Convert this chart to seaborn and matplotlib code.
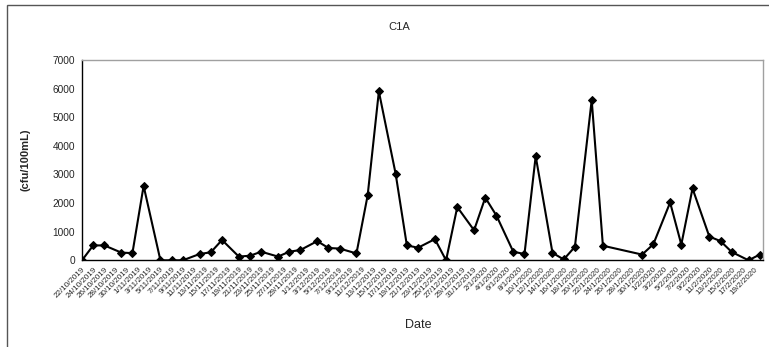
import matplotlib
matplotlib.use("Agg")
import matplotlib.pyplot as plt
import matplotlib.dates as mdates
from matplotlib.patches import Rectangle
import seaborn as sns
import pandas as pd

# ---- data ----
sample_dates = ['2019-10-22', '2019-10-24', '2019-10-26', '2019-10-29', '2019-10-31',
                '2019-11-02', '2019-11-05', '2019-11-07', '2019-11-09', '2019-11-12',
                '2019-11-14', '2019-11-16', '2019-11-19', '2019-11-21', '2019-11-23',
                '2019-11-26', '2019-11-28', '2019-11-30', '2019-12-03', '2019-12-05',
                '2019-12-07', '2019-12-10', '2019-12-12', '2019-12-14', '2019-12-17',
                '2019-12-19', '2019-12-21', '2019-12-24', '2019-12-26', '2019-12-28',
                '2019-12-31', '2020-01-02', '2020-01-04', '2020-01-07', '2020-01-09',
                '2020-01-11', '2020-01-14', '2020-01-16', '2020-01-18', '2020-01-21',
                '2020-01-23', '2020-01-30', '2020-02-01', '2020-02-04', '2020-02-06',
                '2020-02-08', '2020-02-11', '2020-02-13', '2020-02-15', '2020-02-18',
                '2020-02-20']
counts = [0, 520, 520, 270, 250, 2600, 0, 0, 0, 220,
          280, 710, 130, 160, 300, 130, 300, 360, 670, 430,
          410, 240, 2270, 5900, 3020, 520, 440, 740, 0, 1860,
          1050, 2190, 1560, 300, 220, 3640, 260, 30, 470, 5600,
          510, 200, 560, 2020, 550, 2510, 830, 670, 290, 0,
          200]
y_ticks = [0, 1000, 2000, 3000, 4000, 5000, 6000, 7000]
title = "C1A"
x_label = "Date"
y_label = "(cfu/100mL)"
tick_start, tick_end = '2019-10-22', '2020-02-19'

df = pd.DataFrame({"Date": pd.to_datetime(sample_dates), "cfu": counts})

sns.set_style("white")
plt.rcParams['font.family'] = ['Liberation Sans', 'DejaVu Sans']

W, H = 769, 347
fig = plt.figure(figsize=(W / 100, H / 100), dpi=100)
ax = fig.add_axes([82 / W, 1 - 260.3 / H, (763 - 82) / W, (260.3 - 60) / H])

sns.lineplot(data=df, x="Date", y="cfu", ax=ax, color="black", linewidth=1.5,
             marker="D", markersize=4.5, markeredgecolor="black", markerfacecolor="black")

ax.set_ylim(0, 7000)
ax.set_yticks(y_ticks)
ax.set_yticklabels([str(v) for v in y_ticks], fontsize=7.3)
ax.set_xlim(pd.Timestamp('2019-10-22'), pd.Timestamp('2020-02-20') + pd.Timedelta(hours=14))

tick_dates = pd.date_range(tick_start, tick_end, freq='2D')
tick_labels = [f"{d.day}/{d.month}/{d.year}" for d in tick_dates]
ax.set_xticks(tick_dates)
ax.set_xticklabels(tick_labels, rotation=45, ha='right', rotation_mode='anchor', fontsize=5.8)

ax.tick_params(axis='both', direction='out', length=3, width=0.8, color='black', pad=2)
ax.tick_params(axis='x', pad=1)
for side in ['left', 'bottom']:
    ax.spines[side].set_color('black')
    ax.spines[side].set_linewidth(1.0)
for side in ['top', 'right']:
    ax.spines[side].set_color('#a0a0a0')
    ax.spines[side].set_linewidth(1.0)

ax.set_xlabel("")
ax.set_ylabel(y_label, fontsize=8, fontweight='bold')
ax.yaxis.set_label_coords((30 - 82) / (763 - 82), 0.5)

fig.text(399 / W, 1 - 27 / H, title, ha='center', va='center', fontsize=8)
fig.text(418 / W, 1 - 325 / H, x_label, ha='center', va='center', fontsize=9)

fig.patches.append(Rectangle((6.5 / W, -0.05), 1.0, 1 - 5 / H + 0.05,
                             transform=fig.transFigure, fill=False,
                             edgecolor='#555555', linewidth=1.0))

fig.savefig("out.png", dpi=100)
